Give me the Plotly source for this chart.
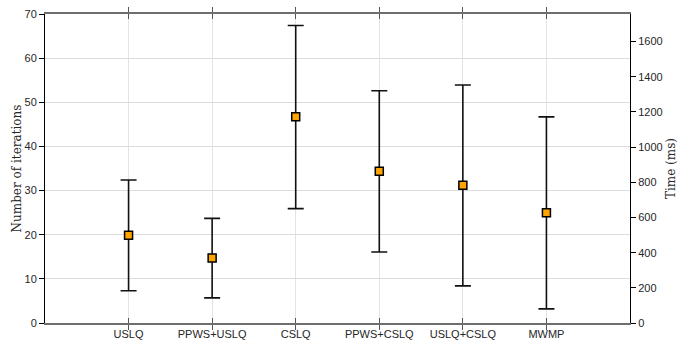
import plotly.graph_objects as go

methods = ["USLQ", "PPWS+USLQ", "CSLQ", "PPWS+CSLQ", "USLQ+CSLQ", "MWMP"]
iter_mean = [19.9, 14.7, 46.7, 34.4, 31.2, 25.0]
iter_upper = [32.4, 23.7, 67.4, 52.6, 53.9, 46.7]
iter_lower = [7.3, 5.7, 25.9, 16.1, 8.4, 3.2]

left_ticks = [0, 10, 20, 30, 40, 50, 60, 70]
right_ticks = [0, 200, 400, 600, 800, 1000, 1200, 1400, 1600]

err_plus = [u - m for u, m in zip(iter_upper, iter_mean)]
err_minus = [m - l for m, l in zip(iter_mean, iter_lower)]

tick_font = dict(family="Liberation Sans, Arial, sans-serif", size=11, color="#262626")
title_font = dict(family="DejaVu Serif, Liberation Serif, serif", size=12, color="#262626")

fig = go.Figure()
fig.add_trace(go.Scatter(
    x=methods, y=iter_mean, mode="markers",
    marker=dict(symbol="square", size=8, color="#FFA500",
                line=dict(color="black", width=1.5)),
    error_y=dict(type="data", symmetric=False, array=err_plus, arrayminus=err_minus,
                 color="#111111", thickness=1.6, width=8),
    showlegend=False,
))
# invisible trace for the right axis
fig.add_trace(go.Scatter(x=[methods[0]], y=[0], yaxis="y2", mode="markers",
                         marker=dict(opacity=0), showlegend=False, hoverinfo="skip"))

fig.update_layout(
    width=689, height=341,
    margin=dict(l=45, r=59, t=14, b=18),
    paper_bgcolor="white", plot_bgcolor="white",
    xaxis=dict(type="category", categoryorder="array", categoryarray=methods,
               range=[-1, 6], showgrid=True, gridcolor="#e3e3e3", gridwidth=1,
               showline=True, linecolor="#6e6e6e", linewidth=1.5, mirror="allticks",
               ticks="inside", ticklen=5, tickcolor="#555555", tickfont=tick_font,
               zeroline=False, automargin=False),
    yaxis=dict(range=[0, 70], tickvals=left_ticks, showgrid=True, gridcolor="#dcdcdc",
               gridwidth=1, showline=True, linecolor="black", linewidth=1,
               ticks="outside", ticklen=5, tickcolor="black", tickfont=tick_font,
               zeroline=False, automargin=False,
               title=dict(text="Number of iterations", font=title_font, standoff=0)),
    yaxis2=dict(overlaying="y", side="right", range=[0, 1757], tickvals=right_ticks,
                showgrid=False, showline=True, linecolor="black", linewidth=1,
                ticks="outside", ticklen=5, tickcolor="black", tickfont=tick_font,
                zeroline=False, automargin=False,
                title=dict(text="Time (ms)", font=title_font, standoff=4)),
)

fig.write_html("out.html", config={"displayModeBar": False},
               post_script="document.body.style.margin='0';document.body.style.overflow='hidden';")
